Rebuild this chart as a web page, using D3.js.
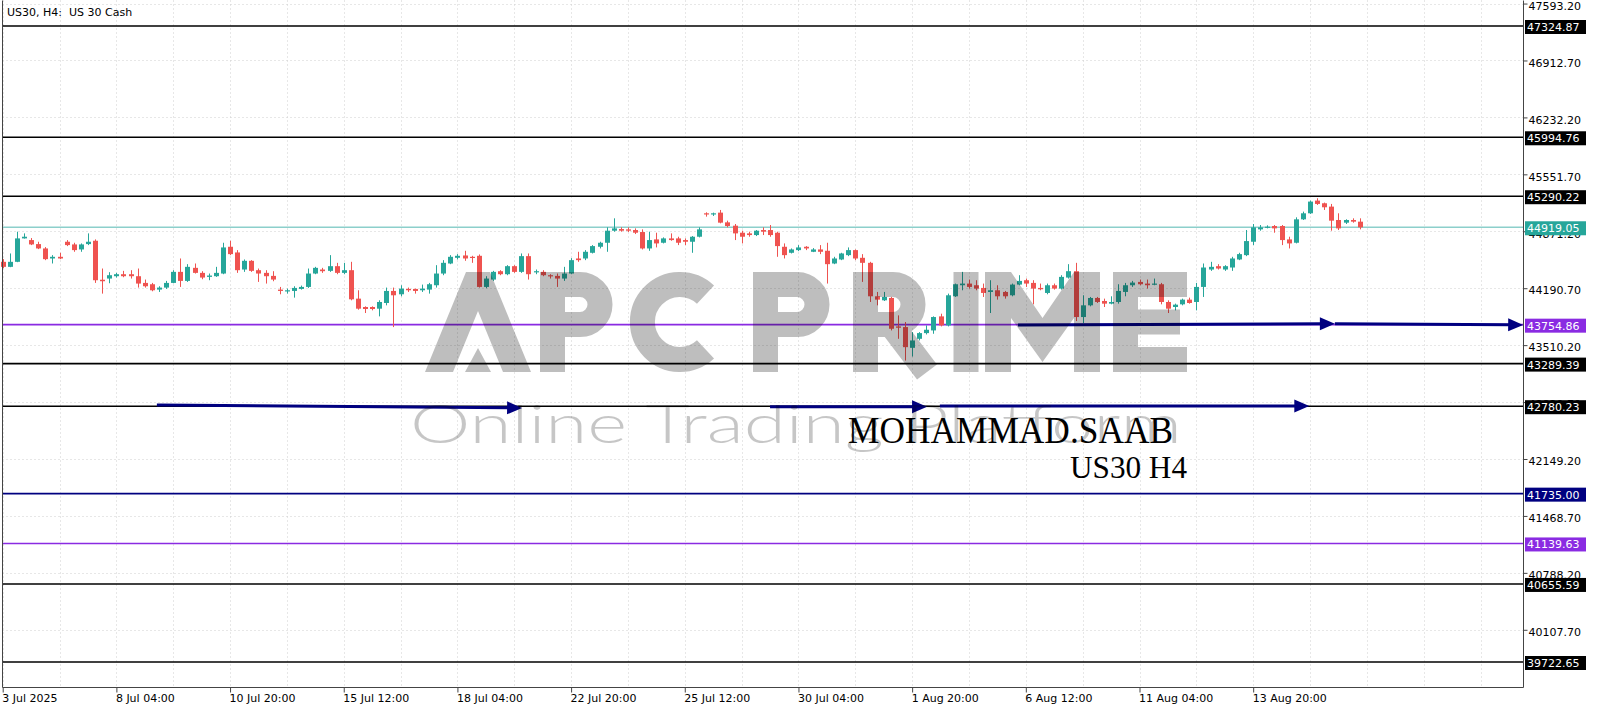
<!DOCTYPE html>
<html><head><meta charset="utf-8">
<script src="https://cdn.jsdelivr.net/npm/d3@7"></script>
<style>html,body{margin:0;padding:0;background:#fff;overflow:hidden}</style>
</head><body><svg id="c" width="1600" height="711" xmlns="http://www.w3.org/2000/svg"></svg>
<script>
// ---------------- DATA ----------------
const title = "US30, H4:  US 30 Cash";
const opens = [44506,44446,44506,44786,44766,44718,44666,44546,44566,44746,
44714,44654,44718,44758,44292,44306,44334,44358,44358,44334,
44254,44238,44174,44198,44254,44386,44278,44434,44374,44326,
44334,44366,44686,44618,44414,44518,44406,44374,44338,44174,
44158,44158,44182,44206,44366,44414,44398,44454,44374,44406,
44066,43966,43966,43946,44014,44158,44118,44182,44182,44166,
44174,44226,44366,44486,44554,44582,44566,44578,44206,44294,
44394,44358,44454,44386,44574,44382,44386,44346,44338,44306,
44366,44546,44546,44614,44686,44734,44878,44898,44894,44886,
44862,44666,44774,44734,44786,44786,44766,44746,44806,45086,
45074,45094,44978,44938,44854,44846,44826,44886,44886,44854,
44686,44614,44646,44686,44626,44654,44638,44486,44534,44586,
44646,44554,44494,44094,44046,44074,43734,43726,43478,43586,
43654,43686,43854,43746,44094,44226,44246,44226,44194,44146,
44166,44146,44106,44234,44286,44254,44194,44134,44226,44186,
44318,44394,43846,43986,44074,44038,44006,44026,44146,44226,
44266,44246,44234,44238,44026,43966,43998,44054,44026,44206,
44414,44454,44414,44438,44534,44586,44746,44894,44914,44934,
44934,44774,44734,45014,45086,45238,45206,45166,45006,44974,
45006,44986];
const highs = [44538,44606,44866,44846,44790,44746,44682,44586,44614,44766,
44734,44726,44846,44774,44426,44382,44374,44398,44406,44426,
44294,44254,44214,44278,44406,44546,44478,44486,44394,44366,
44446,44734,44758,44646,44534,44526,44426,44406,44394,44206,
44186,44214,44222,44426,44446,44434,44586,44494,44494,44506,
44166,43974,43974,44046,44198,44198,44226,44198,44186,44234,
44254,44466,44526,44586,44598,44638,44578,44594,44334,44398,
44406,44466,44466,44606,44606,44414,44406,44358,44366,44446,
44550,44626,44646,44706,44746,44918,45026,44918,44918,44906,
44894,44866,44854,44798,44846,44806,44786,44814,44918,45098,
45094,45126,44998,44958,44878,44866,44886,44918,44946,44866,
44726,44666,44706,44694,44670,44706,44734,44566,44614,44678,
44654,44598,44506,44146,44146,44086,43866,43786,43666,43666,
43746,43854,43886,44126,44246,44386,44294,44286,44246,44286,
44226,44158,44246,44346,44306,44286,44246,44246,44246,44346,
44478,44494,44106,44086,44086,44066,44094,44238,44254,44278,
44294,44294,44306,44254,44046,44006,44066,44078,44254,44486,
44506,44478,44466,44566,44614,44886,44958,44946,44942,44946,
44946,44806,45038,45106,45238,45266,45214,45198,45086,45014,
45026,45026];
const lows = [44430,44442,44502,44784,44706,44658,44526,44486,44538,44694,
44626,44626,44706,44254,44126,44250,44318,44322,44306,44198,
44198,44154,44146,44182,44250,44206,44266,44366,44298,44286,
44326,44358,44586,44374,44386,44386,44266,44246,44274,44118,
44126,44078,44174,44194,44358,44374,44386,44358,44358,44046,
43934,43894,43926,43854,43986,43726,44094,44146,44126,44146,
44126,44198,44346,44478,44534,44518,44494,44198,44190,44278,
44346,44346,44374,44374,44294,44358,44334,44306,44206,44278,
44358,44506,44526,44606,44666,44626,44866,44866,44862,44838,
44654,44638,44678,44726,44758,44706,44706,44614,44798,45046,
45054,44966,44918,44766,44726,44806,44814,44826,44806,44566,
44546,44606,44634,44646,44622,44598,44246,44478,44526,44574,
44526,44266,44026,43986,44038,43686,43586,43326,43374,43566,
43638,43646,43734,43734,44086,44166,44186,44166,44086,43894,
44054,44066,44094,44226,44206,43998,44166,44118,44174,44174,
44306,43798,43774,43974,44014,43966,43998,44006,44094,44206,
44226,44186,44226,43998,43894,43926,43986,44006,43926,44086,
44398,44414,44398,44398,44526,44574,44706,44878,44906,44854,
44706,44666,44726,45006,45078,45186,45126,44878,44886,44958,
44974,44894];
const closes = [44446,44506,44786,44806,44714,44666,44538,44566,44546,44706,
44646,44714,44746,44286,44274,44346,44358,44334,44334,44246,
44214,44166,44198,44254,44386,44278,44446,44374,44318,44342,
44374,44678,44598,44406,44518,44398,44366,44334,44294,44158,
44166,44194,44206,44366,44434,44394,44454,44374,44406,44058,
43946,43942,43942,44026,44158,44106,44186,44166,44158,44186,
44238,44366,44494,44566,44578,44546,44554,44206,44306,44386,
44358,44454,44386,44574,44358,44394,44346,44334,44306,44366,
44526,44526,44626,44694,44734,44878,44906,44878,44878,44854,
44666,44766,44726,44786,44766,44734,44746,44806,44894,45074,
45086,44974,44934,44846,44806,44826,44878,44866,44826,44694,
44586,44654,44678,44666,44654,44626,44478,44546,44606,44646,
44546,44494,44094,44054,44086,43706,43718,43486,43566,43654,
43694,43846,43746,44106,44238,44246,44206,44186,44134,44166,
44094,44094,44234,44278,44246,44186,44178,44226,44186,44326,
44394,43846,43986,44074,44026,44006,44026,44158,44226,44258,
44238,44226,44246,44026,43946,43994,44054,44014,44206,44438,
44446,44426,44454,44546,44598,44754,44918,44918,44926,44906,
44766,44726,45014,45086,45226,45198,45158,44998,44906,45006,
44986,44918];
const xTickIndex = [0,16,32,48,64,80,96,112,128,144,160,176];
const xTickLabels = ["3 Jul 2025","8 Jul 04:00","10 Jul 20:00","15 Jul 12:00","18 Jul 04:00","22 Jul 20:00","25 Jul 12:00","30 Jul 04:00","1 Aug 20:00","6 Aug 12:00","11 Aug 04:00","13 Aug 20:00"];
const priceTicks = [47593.20,46912.70,46232.20,45551.70,44871.20,44190.70,43510.20,42829.70,42149.20,41468.70,40788.20,40107.70];
const levelPrices = [47324.87,45994.76,45290.22,44919.05,43754.86,43289.39,42780.23,41735.00,41139.63,40655.59,39722.65];
const levelKinds  = ["black","black","black","bid","violet","black","black","navy","violet","black","black"];
const arrowStartIdx   = [21.7, 108, 131.9, 142.9, 187.5];
const arrowEndIdx     = [73.1, 130.1, 183.9, 187.5, 214.0];
const arrowStartPrice = [42795, 42774, 42782, 43751, 43766];
const arrowEndPrice   = [42759, 42774, 42782, 43766, 43752];
const authorText = "MOHAMMAD.SAAB";
const subText = "US30 H4";
const wmSub = "Online Trading Platform";

// ---------------- STYLE ----------------
const UP="#26a69a", DOWN="#ef5350";
const lineColor = {black:"#000000", bid:"#8ccfcb", violet:"#8a2be2", navy:"#000080"};
const boxColor  = {black:"#000000", bid:"#26a69a", violet:"#8a2be2", navy:"#000080"};
const FONT = "'DejaVu Sans', Tahoma, sans-serif";

const L=2.5, R=1523.5, T=0.5, B=687.5;
const x = d3.scaleLinear().domain([0,191]).range([2.7, 2.7+191*7.105]);
const y = d3.scaleLinear().domain([39722.65,47324.87]).range([662,26]);
const svg = d3.select("#c");

// grid
const grid = svg.append("g").attr("stroke","#cfcfcf").attr("stroke-width",1).attr("stroke-dasharray","1,3");
grid.selectAll("line.v").data(d3.range(0,216,8).filter(i=>x(i)<R-2)).join("line")
  .attr("x1",d=>Math.round(x(d))+0.5).attr("x2",d=>Math.round(x(d))+0.5).attr("y1",T).attr("y2",B);
grid.selectAll("line.h").data(priceTicks).join("line")
  .attr("x1",L).attr("x2",R).attr("y1",d=>Math.round(y(d))+0.5).attr("y2",d=>Math.round(y(d))+0.5);

// level lines
svg.append("g").selectAll("line").data(levelPrices).join("line")
  .attr("x1",L).attr("x2",R)
  .attr("y1",d=>y(d)).attr("y2",d=>y(d))
  .attr("stroke",(d,i)=>lineColor[levelKinds[i]])
  .attr("stroke-width",(d,i)=>levelKinds[i]==="bid"?1.4:1.6);

// candles
const idx = d3.range(opens.length);
const cg = svg.append("g");
cg.selectAll("line").data(idx).join("line")
  .attr("x1",i=>Math.round(x(i))+0.5).attr("x2",i=>Math.round(x(i))+0.5)
  .attr("y1",i=>y(highs[i])).attr("y2",i=>y(lows[i]))
  .attr("stroke",i=>closes[i]>=opens[i]?UP:DOWN).attr("stroke-width",1);
cg.selectAll("rect").data(idx).join("rect")
  .attr("x",i=>Math.round(x(i))-2).attr("width",5)
  .attr("y",i=>Math.min(y(opens[i]),y(closes[i])))
  .attr("height",i=>Math.max(1.2,Math.abs(y(opens[i])-y(closes[i]))))
  .attr("fill",i=>closes[i]>=opens[i]?UP:DOWN);

// arrows
const ag = svg.append("g");
arrowStartIdx.forEach((s,i)=>{
  const x1=x(s), y1=y(arrowStartPrice[i]), x2=x(arrowEndIdx[i]), y2=y(arrowEndPrice[i]);
  const a=Math.atan2(y2-y1,x2-x1), HL=15, HW=6.5;
  const bx=x2-HL*Math.cos(a), by=y2-HL*Math.sin(a);
  ag.append("line").attr("x1",x1).attr("y1",y1).attr("x2",bx+2*Math.cos(a)).attr("y2",by+2*Math.sin(a))
    .attr("stroke","#000080").attr("stroke-width",3);
  ag.append("path").attr("fill","#000080")
    .attr("d",`M${x2},${y2}L${bx-HW*Math.sin(a)},${by+HW*Math.cos(a)}L${bx+HW*Math.sin(a)},${by-HW*Math.cos(a)}Z`);
});

// watermark
const wm = svg.append("g").attr("opacity",0.25);
wm.append("path").attr("fill","#000")
  .attr("d","M425,372L466,272L490,272L531,372L503,372L478,311L453,372Z M465,372L478,348L491,372Z");
const wmStroke = wm.append("g").attr("fill","none").attr("stroke","#000").attr("stroke-width",25).attr("stroke-linejoin","miter");
wmStroke.append("path").attr("d","M552.5,372V284.5H580A20,20 0 0 1 580,324.5H552.5");
wmStroke.append("path").attr("d","M705.5,294.6A37.5,37.5 0 1 0 705.5,349.4");
wmStroke.append("path").attr("d","M765.5,372V284.5H797A20,20 0 0 1 797,324.5H765.5");
wmStroke.append("path").attr("d","M865.5,372V284.5H893A20,20 0 0 1 893,324.5H865.5 M889,322L927,372");
wmStroke.append("path").attr("d","M966,372V272");
wmStroke.append("path").attr("d","M1187,284.5H1125.5V359.5H1187 M1125.5,322H1180");
wm.append("path").attr("fill","#000")
  .attr("d","M985,372L985,272L1011,272L1042.5,318L1074,272L1100,272L1100,372L1074,372L1074,318L1042.5,362L1011,318L1011,372Z");
svg.append("text").attr("x",410).attr("y",443).attr("font-family","Lato, 'Open Sans', sans-serif")
  .attr("font-size",53).attr("font-weight",300).attr("textLength",772).attr("lengthAdjust","spacingAndGlyphs")
  .attr("fill","#000").attr("opacity",0.22).text(wmSub);

// author texts
svg.append("text").attr("x",848).attr("y",443).attr("font-family","'Liberation Serif', 'Times New Roman', serif")
  .attr("font-size",37).attr("textLength",325).attr("lengthAdjust","spacingAndGlyphs").attr("fill","#000").text(authorText);
svg.append("text").attr("x",1070).attr("y",478).attr("font-family","'Liberation Serif', 'Times New Roman', serif")
  .attr("font-size",32).attr("textLength",117).attr("lengthAdjust","spacingAndGlyphs").attr("fill","#000").text(subText);

// frame
svg.append("path").attr("fill","none").attr("stroke","#444").attr("stroke-width",1)
  .attr("d",`M${L},${T}V${B}H${R}V${T}`);

// x axis
const xa = svg.append("g").attr("transform",`translate(0,${B})`)
  .call(d3.axisBottom(x).tickValues(xTickIndex).tickFormat((d,i)=>xTickLabels[i]).tickSize(5).tickPadding(2));
xa.select(".domain").remove();
xa.selectAll(".tick line").attr("stroke","#444");
xa.selectAll(".tick text").attr("text-anchor","start").attr("x",-1).attr("font-family",FONT).attr("font-size",11).attr("fill","#000");
xa.attr("font-family",FONT).attr("font-size",11);

// y axis
const ya = svg.append("g").attr("transform",`translate(${R},0)`)
  .call(d3.axisRight(y).tickValues(priceTicks).tickFormat(d3.format(".2f")).tickSize(4).tickPadding(1));
ya.select(".domain").remove();
ya.selectAll(".tick line").attr("stroke","#444");
ya.selectAll(".tick text").attr("dy","0.52em").attr("font-family",FONT).attr("font-size",11).attr("fill","#000");
ya.attr("font-family",FONT).attr("font-size",11);

// level boxes
const lb = svg.append("g").selectAll("g").data(levelPrices).join("g")
  .attr("transform",d=>`translate(1525,${y(d)+1})`);
lb.append("rect").attr("x",0).attr("y",-7).attr("width",61).attr("height",14)
  .attr("fill",(d,i)=>boxColor[levelKinds[i]]);
lb.append("text").attr("x",2).attr("y",0).attr("dy","0.36em").attr("font-family",FONT).attr("font-size",11)
  .attr("fill","#fff").text(d=>d3.format(".2f")(d));

// title
svg.append("text").attr("x",7).attr("y",16).attr("font-family",FONT).attr("font-size",11)
  .style("white-space","pre").attr("fill","#000").text(title);
</script>
</body></html>
